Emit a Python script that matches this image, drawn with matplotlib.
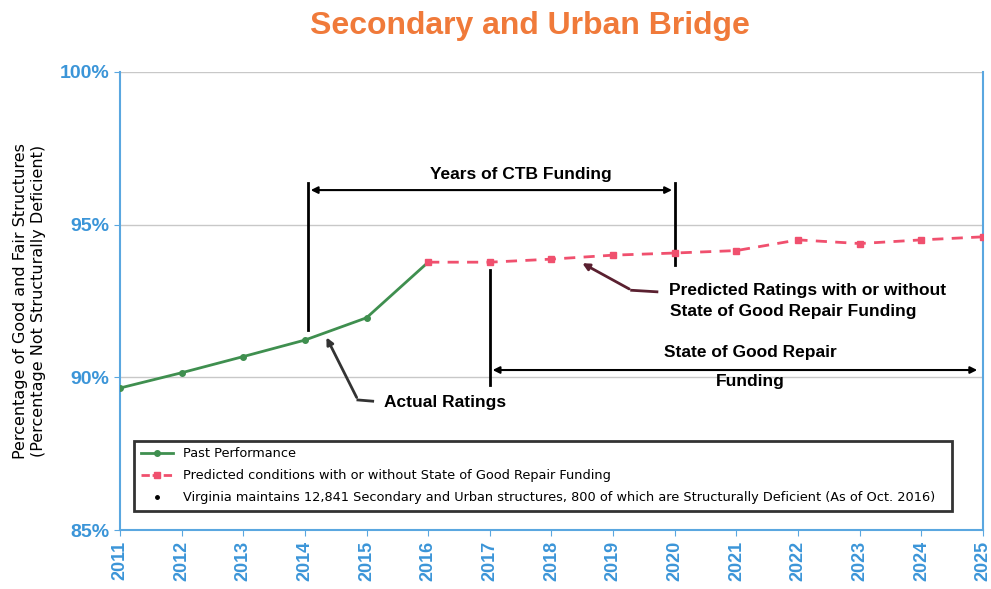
import matplotlib.pyplot as plt
from matplotlib.lines import Line2D

# data
past_years = [2011, 2012, 2013, 2014, 2015, 2016]
past_values = [89.65, 90.15, 90.68, 91.22, 91.95, 93.77]

pred_years = [2016, 2017, 2018, 2019, 2020, 2021, 2022, 2023, 2024, 2025]
pred_values = [93.77, 93.77, 93.87, 94.0, 94.07, 94.15, 94.5, 94.38, 94.5, 94.6]

year_ticks = list(range(2011, 2026))
pct_ticks = [85, 90, 95, 100]

legend_labels = [
    "Past Performance",
    "Predicted conditions with or without State of Good Repair Funding",
    "Virginia maintains 12,841 Secondary and Urban structures, 800 of which are Structurally Deficient (As of Oct. 2016)",
]

GREEN = "#3f8f4f"
RED = "#f0506e"
BLUE = "#3b95d8"
AXBLUE = "#5aa7e0"
ORANGE = "#f07a3a"
narrow = ["Liberation Sans Narrow", "DejaVu Sans"]

plt.rcParams["font.family"] = ["Liberation Sans", "DejaVu Sans"]


def main():
    fig = plt.figure(figsize=(9.91, 5.89), dpi=100)
    ax = fig.add_axes([0.121, 0.100, 0.871, 0.778])

    ax.plot(past_years, past_values, color=GREEN, lw=2, marker="o", ms=4, zorder=3)
    ax.plot(pred_years, pred_values, color=RED, lw=2, ls=(0, (4, 3)), marker="s",
            ms=4, zorder=3)

    ax.set_xlim(2011, 2025)
    ax.set_ylim(85, 100)
    ax.set_xticks(year_ticks)
    ax.set_xticklabels([str(y) for y in year_ticks], rotation=90, color=BLUE,
                       fontweight="bold", fontsize=13)
    ax.set_yticks(pct_ticks)
    ax.set_yticklabels([f"{p}%" for p in pct_ticks], color=BLUE,
                       fontweight="bold", fontsize=14)
    ax.yaxis.grid(True, color="#c8c8c8", lw=1)
    ax.set_axisbelow(True)
    ax.tick_params(axis="both", color=AXBLUE, length=4)

    for side in ["left", "bottom", "right"]:
        ax.spines[side].set_color(AXBLUE)
        ax.spines[side].set_linewidth(1.5)
    ax.spines["top"].set_visible(False)

    ax.set_ylabel("Percentage of Good and Fair Structures\n(Percentage Not Structurally Deficient)",
                  family=narrow, fontsize=11.5, labelpad=10)

    fig.suptitle("Secondary and Urban Bridge", color=ORANGE, fontweight="bold",
                 fontsize=23, x=0.535, y=0.982)

    # CTB funding bracket
    ax.plot([2014.05, 2014.05], [96.36, 91.55], color="black", lw=2)
    ax.plot([2020.0, 2020.0], [96.36, 93.68], color="black", lw=2)
    ax.annotate("", xy=(2014.05, 96.13), xytext=(2020.0, 96.13),
                arrowprops=dict(arrowstyle="<|-|>", color="black", lw=1.5))
    ax.text(2017.5, 96.63, "Years of CTB Funding", ha="center", va="center",
            fontweight="bold", fontsize=12.5)

    # state of good repair bracket
    ax.plot([2017.0, 2017.0], [93.5, 89.75], color="black", lw=2)
    ax.annotate("", xy=(2017.0, 90.24), xytext=(2024.95, 90.24),
                arrowprops=dict(arrowstyle="<|-|>", color="black", lw=1.5))
    ax.text(2021.22, 90.8, "State of Good Repair", ha="center", va="center",
            fontweight="bold", fontsize=12.5)
    ax.text(2021.22, 89.88, "Funding", ha="center", va="center",
            fontweight="bold", fontsize=12.5)

    # actual ratings callout
    ax.plot([2014.86, 2015.1], [89.26, 89.22], color="#333333", lw=2)
    ax.annotate("", xy=(2014.33, 91.39), xytext=(2014.86, 89.26),
                arrowprops=dict(arrowstyle="-|>", color="#333333", lw=2))
    ax.text(2016.27, 89.19, "Actual Ratings", ha="center", va="center",
            fontweight="bold", fontsize=12.5)

    # predicted ratings callout
    ax.plot([2019.71, 2019.3], [92.8, 92.85], color="#5a2030", lw=2)
    ax.annotate("", xy=(2018.46, 93.78), xytext=(2019.3, 92.85),
                arrowprops=dict(arrowstyle="-|>", color="#5a2030", lw=2))
    ax.text(2019.9, 92.83, "Predicted Ratings with or without", ha="left",
            va="center", fontweight="bold", fontsize=12.5)
    ax.text(2019.93, 92.17, "State of Good Repair Funding", ha="left",
            va="center", fontweight="bold", fontsize=12.5)

    handles = [
        Line2D([], [], color=GREEN, lw=2, marker="o", ms=4),
        Line2D([], [], color=RED, lw=2, ls=(0, (3, 1)), marker="s", ms=4),
        Line2D([], [], color="black", lw=0, marker="o", ms=2.5),
    ]
    leg = ax.legend(handles, legend_labels, loc="lower left",
                    bbox_to_anchor=(0.009, 0.028, 0.962, 0.175), mode="expand",
                    prop={"family": narrow, "size": 9.3}, frameon=True,
                    fancybox=False, edgecolor="black", handlelength=2.5,
                    labelspacing=0.7, borderpad=0.5)
    leg.get_frame().set_linewidth(2)

    fig.savefig("out.png", dpi=100)


if __name__ == "__main__":
    main()
